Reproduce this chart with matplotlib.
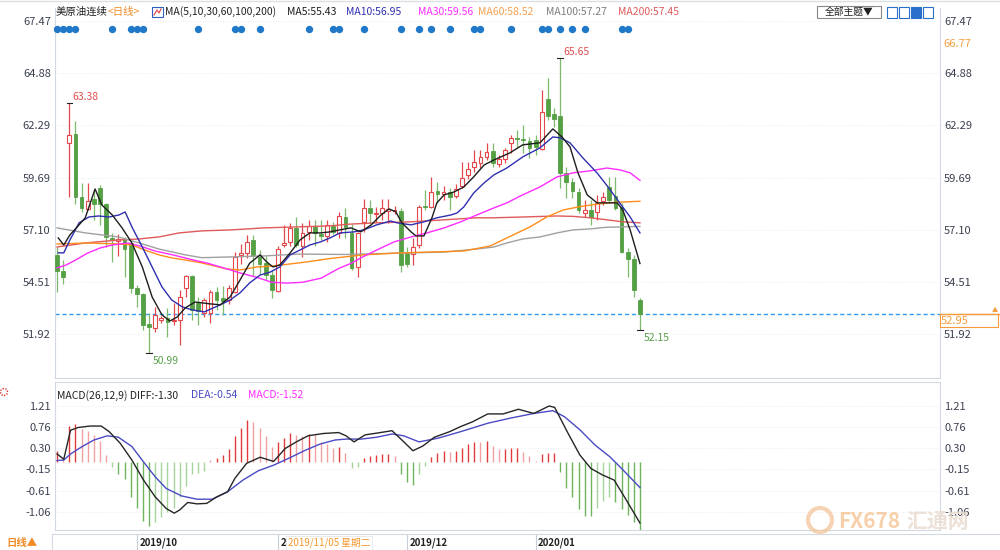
import numpy as np
import matplotlib.pyplot as plt
import matplotlib.transforms as mtransforms
from matplotlib.patches import Rectangle, Ellipse

plt.rcParams['font.family'] = ['Noto Sans CJK SC', 'DejaVu Sans']

# daily candles, 2019/09/12 .. 2020/01 (one per trading day)
opens = [55.86, 55.06, 61.42, 61.86, 58.74, 58.14, 58.64, 59.18, 58.39, 56.70,
         56.55, 56.65, 56.45, 54.22, 53.92, 52.43, 52.23, 52.63, 52.73, 52.60,
         52.63, 54.22, 54.81, 53.48, 52.98, 52.98, 54.02, 53.72, 53.62, 54.00,
         55.86, 55.96, 56.60, 55.76, 55.46, 54.86, 54.07, 56.35, 56.50, 57.20,
         56.30, 57.00, 57.25, 56.90, 56.80, 57.30, 56.95, 57.75, 56.95, 55.26,
         57.49, 58.19, 57.90, 57.94, 58.05, 58.05, 58.04, 56.01, 55.91, 56.35,
         58.30, 58.24, 59.03, 58.88, 58.98, 58.78, 59.28, 59.83, 60.22, 60.42,
         60.72, 61.02, 60.37, 60.62, 61.42, 61.67, 61.62, 61.52, 61.55, 61.12,
         63.60, 62.86, 62.76, 59.93, 59.48, 58.98, 57.94, 58.09, 57.99, 58.54,
         59.23, 58.78, 58.24, 56.01, 55.66, 53.62]
highs = [56.25, 55.61, 63.38, 62.51, 59.43, 59.43, 59.08, 59.33, 58.44, 56.95,
         56.90, 56.75, 56.60, 54.37, 53.97, 52.98, 53.28, 52.85, 53.23, 53.48,
         54.12, 54.86, 54.86, 53.77, 53.72, 54.12, 54.27, 54.30, 54.37, 56.01,
         56.40, 56.85, 56.85, 56.10, 55.80, 55.11, 56.30, 57.35, 57.45, 57.75,
         57.45, 57.60, 57.60, 57.60, 57.60, 57.50, 58.00, 58.20, 57.40, 57.00,
         58.64, 58.59, 58.24, 58.64, 58.64, 58.30, 58.19, 56.25, 56.70, 58.34,
         59.10, 59.73, 59.48, 59.30, 59.18, 59.40, 60.47, 60.47, 61.07, 61.07,
         61.42, 61.42, 60.80, 61.17, 61.81, 62.06, 62.31, 61.71, 61.80, 64.05,
         64.64, 63.15, 65.65, 60.22, 59.68, 59.18, 58.59, 58.59, 58.84, 58.98,
         59.73, 59.73, 58.44, 56.20, 55.86, 53.72]
lows = [54.02, 54.42, 58.74, 58.39, 57.99, 58.09, 57.59, 57.35, 56.25, 55.50,
        55.80, 54.76, 53.97, 53.28, 52.14, 50.99, 52.04, 52.50, 51.79, 52.38,
        51.39, 53.77, 52.63, 52.38, 52.78, 52.50, 53.13, 52.90, 53.40, 53.97,
        55.40, 55.70, 54.80, 54.90, 54.60, 53.72, 54.00, 56.25, 56.30, 56.25,
        55.76, 56.60, 56.30, 56.60, 56.50, 56.90, 56.70, 56.70, 55.10, 54.76,
        56.99, 57.45, 57.49, 57.59, 57.45, 57.90, 55.01, 55.26, 55.36, 56.20,
        58.10, 58.19, 58.44, 58.60, 58.09, 58.70, 59.18, 59.63, 59.98, 60.17,
        60.57, 60.22, 60.20, 60.42, 60.92, 61.22, 60.92, 60.67, 60.80, 61.07,
        62.56, 62.21, 59.18, 58.69, 58.69, 57.94, 57.74, 57.35, 57.59, 58.34,
        58.49, 58.09, 55.96, 54.76, 53.77, 52.15]
closes = [55.06, 54.76, 61.81, 58.74, 58.19, 58.54, 58.39, 58.39, 56.75, 56.60,
          56.65, 56.15, 54.22, 53.92, 52.38, 52.28, 52.88, 52.73, 52.53, 52.65,
          53.77, 54.81, 53.10, 53.08, 53.62, 54.02, 53.62, 53.57, 54.22, 55.76,
          55.96, 56.50, 55.86, 55.41, 54.86, 54.12, 56.15, 56.45, 57.20, 56.35,
          56.95, 57.30, 56.95, 56.80, 57.35, 57.00, 57.79, 57.25, 55.21, 56.95,
          58.19, 57.94, 57.95, 58.19, 58.15, 58.10, 55.36, 55.41, 56.25, 58.24,
          58.25, 58.98, 58.88, 58.98, 58.74, 59.13, 59.68, 60.13, 60.47, 60.72,
          60.97, 60.42, 60.62, 61.07, 61.67, 61.62, 61.57, 61.17, 61.20, 62.96,
          62.76, 62.61, 59.93, 59.48, 59.03, 58.09, 58.09, 57.74, 58.44, 58.74,
          58.58, 58.19, 56.01, 55.66, 54.12, 52.95]

# moving averages: (candle index, value)
ma5_idx = [0.2, 1.1, 2.1, 3.3, 4.6, 6.2, 7.3, 9.0, 10.6, 12.2, 13.9, 15.5, 17.1, 18.4,
           19.6, 20.9, 22.5, 24.9, 26.6, 28.2, 29.8, 31.4, 33.1, 34.2, 35.2, 36.3, 38.0,
           39.6, 41.2, 42.9, 44.5, 46.1, 47.9, 49.5, 51.2, 52.8, 54.1, 55.2, 56.2, 57.7,
           58.5, 59.8, 61.1, 61.9, 63.1, 64.7, 66.3, 67.9, 69.6, 71.2, 73.8, 75.9, 78.7,
           80.8, 82.3, 83.6, 84.9, 86.4, 88.0, 89.3, 91.3, 92.2, 93.4, 95.0]
ma5_val = [56.70, 56.35, 56.85, 57.25, 57.70, 59.13, 58.34, 57.84, 57.20, 56.45, 55.26,
           53.77, 52.88, 52.58, 52.78, 53.23, 53.52, 53.43, 53.38, 53.77, 54.60, 55.45,
           55.86, 55.50, 55.26, 55.36, 55.96, 56.60, 56.95, 56.95, 57.00, 57.10, 57.20,
           57.00, 57.35, 57.84, 58.14, 58.00, 57.45, 57.00, 56.80, 56.80, 57.70, 58.44,
           58.84, 58.98, 59.23, 59.73, 60.32, 60.57, 60.92, 61.32, 61.42, 62.11, 61.71,
           61.22, 59.93, 58.84, 58.44, 58.44, 58.44, 58.09, 57.10, 55.43]
ma10_idx = [0.2, 1.1, 2.1, 3.6, 5.2, 6.8, 8.5, 10.1, 11.1, 12.2, 13.9, 15.5, 17.1, 18.7,
            20.4, 22.0, 24.0, 26.6, 28.2, 29.8, 31.4, 33.1, 34.7, 36.3, 38.0, 39.6, 41.2,
            42.9, 44.5, 46.1, 48.4, 50.0, 52.1, 54.4, 55.4, 57.7, 59.8, 61.9, 64.2, 65.2,
            66.3, 67.9, 69.6, 71.2, 73.3, 75.9, 78.7, 80.8, 82.0, 83.6, 85.7, 88.0, 89.8,
            91.7, 93.4, 95.0]
ma10_val = [55.96, 55.96, 56.60, 57.45, 57.74, 57.79, 57.74, 57.84, 57.99, 57.25, 56.25,
            55.26, 54.27, 53.62, 53.28, 53.13, 53.03, 53.38, 53.62, 53.97, 54.47, 54.86,
            55.00, 55.26, 55.86, 56.10, 56.35, 56.50, 56.70, 56.95, 57.00, 57.10, 57.35,
            57.54, 57.45, 57.35, 57.50, 57.70, 57.84, 57.94, 58.24, 58.93, 59.43, 59.83,
            60.17, 60.72, 61.17, 61.71, 61.67, 61.42, 60.67, 59.93, 59.23, 58.44, 57.74,
            56.95]
ma30_idx = [0, 1.5, 3, 5, 7, 9, 11.5, 13.5, 16, 19, 22, 24.5, 27.5, 30, 32.5, 35, 37.5,
            40, 43, 46, 48, 49.5, 52.1, 54.9, 57.7, 60.3, 63.1, 65.8, 68.4, 71.2, 73.3,
            75.9, 78.7, 81.5, 84.1, 86.9, 89.6, 91.7, 93.4, 95]
ma30_val = [55.21, 55.36, 55.60, 55.95, 56.20, 56.35, 56.45, 56.30, 56.05, 55.85, 55.62,
            55.45, 55.18, 54.95, 54.75, 54.50, 54.46, 54.50, 54.70, 55.20, 55.45, 55.71,
            56.10, 56.50, 56.75, 56.95, 57.20, 57.50, 57.84, 58.19, 58.44, 58.84, 59.23,
            59.73, 59.93, 60.03, 60.17, 60.08, 59.93, 59.56]
ma60_idx = [0, 5, 10, 12.2, 14.3, 16.6, 18.7, 21, 23.6, 27.7, 29.8, 32.6, 35.2, 38, 40.7,
            44.5, 49.9, 55.4, 60.8, 66.2, 70.6, 73.3, 77.1, 79.8, 82.5, 85, 88, 90.6, 95]
ma60_val = [56.40, 56.45, 56.40, 56.35, 56.10, 55.86, 55.71, 55.60, 55.46, 55.16, 55.11,
            55.26, 55.31, 55.41, 55.51, 55.68, 55.86, 55.95, 56.00, 56.05, 56.30, 56.70,
            57.25, 57.74, 58.09, 58.24, 58.38, 58.46, 58.52]
ma100_idx = [0, 4.6, 10, 13.4, 16.6, 20.9, 23.6, 28.5, 34, 39.3, 47, 57.7, 63.1, 68.4,
             71.2, 73.3, 75.9, 78.7, 81.5, 84.1, 86.9, 89.6, 95]
ma100_val = [57.20, 56.95, 56.75, 56.45, 56.15, 55.86, 55.72, 55.76, 55.81, 55.90, 55.88,
             55.96, 56.00, 56.15, 56.25, 56.45, 56.65, 56.75, 56.95, 57.10, 57.15, 57.23,
             57.27]
ma200_idx = [0, 4.6, 10.1, 13.4, 16.6, 19.9, 23.6, 28.4, 33.9, 39.3, 44.6, 47.4, 52.1,
             57.7, 63.1, 68.4, 71.2, 75.9, 81.5, 84.1, 86.9, 89.6, 92.2, 95]
ma200_val = [56.25, 56.45, 56.60, 56.65, 56.75, 56.95, 57.05, 57.10, 57.20, 57.25, 57.30,
             57.38, 57.45, 57.50, 57.60, 57.70, 57.70, 57.74, 57.79, 57.77, 57.70, 57.60,
             57.50, 57.45]

# MACD histogram, one bar per candle
macd_hist = [0.25, 0.09, 0.79, 0.82, 0.72, 0.68, 0.59, 0.46, 0.16, -0.09,
             -0.25, -0.36, -0.75, -0.97, -1.25, -1.36, -1.29, -1.18, -1.07, -0.97,
             -0.75, -0.50, -0.25, -0.23, -0.18, 0.05, 0.09, 0.16, 0.29, 0.56,
             0.73, 0.91, 0.86, 0.73, 0.56, 0.34, 0.43, 0.52, 0.64, 0.59,
             0.57, 0.61, 0.59, 0.43, 0.39, 0.30, 0.34, 0.20, -0.13, -0.09,
             0.10, 0.14, 0.16, 0.18, 0.18, 0.14, -0.25, -0.43, -0.49, -0.25,
             -0.07, 0.11, 0.21, 0.25, 0.23, 0.25, 0.30, 0.39, 0.44, 0.43,
             0.46, 0.36, 0.29, 0.29, 0.30, 0.30, 0.23, 0.13, 0.04, 0.18,
             0.20, 0.20, -0.21, -0.54, -0.75, -1.00, -1.16, -1.16, -0.97, -0.82,
             -0.75, -0.86, -1.00, -1.13, -1.29, -1.52]
diff_idx = [0, 1.1, 2.2, 3.5, 5.4, 7.2, 8.5, 10.3, 12.2, 14.1, 16, 17.8, 19.1, 20, 21.3,
            22.8, 24.4, 25.9, 27.8, 29, 30.9, 33.1, 35.3, 37.2, 39, 40.9, 43.4, 45.9, 47.1,
            48.4, 50.2, 52.7, 54.6, 56.2, 58, 59.6, 61.5, 64, 65.8, 67.7, 70.2, 72.7, 75.2,
            77.7, 80.2, 81.1, 83.3, 85.2, 87, 88.9, 90.8, 92.6, 95]
diff_val = [0.18, 0.07, 0.69, 0.75, 0.78, 0.78, 0.66, 0.41, 0.05, -0.38, -0.74, -0.99,
            -1.09, -1.02, -0.86, -0.89, -0.88, -0.75, -0.63, -0.34, -0.02, 0.11, 0.02,
            0.30, 0.44, 0.57, 0.62, 0.64, 0.57, 0.44, 0.59, 0.64, 0.68, 0.48, 0.25, 0.35,
            0.54, 0.66, 0.77, 0.87, 1.04, 1.04, 1.14, 1.05, 1.21, 1.18, 0.62, 0.16, -0.13,
            -0.27, -0.38, -0.77, -1.30]
dea_idx = [0, 1.1, 2.2, 4.1, 6, 8.2, 10, 12.2, 14.1, 16, 17.8, 20.3, 22.8, 25.3, 27.8,
           30.3, 32.8, 35.3, 37.8, 40.3, 42.8, 45.3, 47.1, 49.6, 52.1, 54.6, 56.5, 59,
           62.1, 65.8, 70.2, 73.9, 77.7, 80.8, 82.7, 85.2, 87.7, 90.1, 92, 95]
dea_val = [0.04, 0.05, 0.18, 0.34, 0.48, 0.57, 0.54, 0.34, 0.01, -0.31, -0.56, -0.72,
           -0.79, -0.79, -0.63, -0.38, -0.18, -0.06, 0.09, 0.25, 0.39, 0.48, 0.50, 0.50,
           0.54, 0.61, 0.57, 0.44, 0.52, 0.66, 0.84, 0.95, 1.05, 1.11, 0.98, 0.70, 0.37,
           0.12, -0.13, -0.54]

price_ticks = [67.47, 64.88, 62.29, 59.69, 57.10, 54.51, 51.92]
macd_ticks = [1.21, 0.76, 0.30, -0.15, -0.61, -1.06]
month_idx = [13, 36, 57, 78]
month_labels = ['2019/10', '2019/11', '2019/12', '2020/01']
event_idx = [0, 1, 2, 3, 9, 12, 13, 14, 23, 29, 30, 33, 41, 45, 46, 50, 56, 59, 61,
             64, 68, 69, 74, 79, 80, 82, 84, 86, 92, 93]
mark_high_idx = [2, 82]
mark_low_idx = [15, 95]
last_price = 52.95
ma_names = ['MA5', 'MA10', 'MA30', 'MA60', 'MA100', 'MA200']
ma_last = [55.43, 56.95, 59.56, 58.52, 57.27, 57.45]
macd_last = [-1.30, -0.54, -1.52]

RED = '#e4484a'
GREEN = '#55a044'
ORANGE = '#f08c28'
ma_colors = ['#1e1e1e', '#2f2fb0', '#ff2cff', '#ff8c1a', '#a0a0a0', '#e05a5a']

W, H = 1000, 550
fig = plt.figure(figsize=(10, 5.5), dpi=100)


def box(x0, y0, x1, y1):
    return [x0 / W, 1 - y1 / H, (x1 - x0) / W, (y1 - y0) / H]


def fy(y):
    return 1 - y / H


ax = fig.add_axes(box(55, 8, 940, 378))
ax2 = fig.add_axes(box(55, 382, 940, 530))
xlim = (-0.33, 143.9)

o = np.array(opens)
h = np.array(highs)
l = np.array(lows)
c = np.array(closes)
idx = np.arange(len(c))
up = c >= o

# candles
ax.vlines(idx[up], l[up], h[up], color=RED, lw=0.9, zorder=2)
ax.vlines(idx[~up], l[~up], h[~up], color='#7cbb6c', lw=0.9, zorder=2)
body_lo = np.minimum(o, c)
body_h = np.maximum(np.abs(c - o), 0.03)
ax.bar(idx[up], body_h[up], bottom=body_lo[up], width=0.62, facecolor='white',
       edgecolor=RED, lw=0.8, zorder=3)
ax.bar(idx[~up], body_h[~up], bottom=body_lo[~up], width=0.62, facecolor=GREEN,
       edgecolor=GREEN, lw=0.6, zorder=3)

# moving averages
ma_series = [(ma5_idx, ma5_val), (ma10_idx, ma10_val), (ma30_idx, ma30_val),
             (ma60_idx, ma60_val), (ma100_idx, ma100_val), (ma200_idx, ma200_val)]
for (xi, yv), col in zip(ma_series[::-1], ma_colors[::-1]):
    ax.plot(xi, yv, color=col, lw=1.0, zorder=4)

# last price line
ax.axhline(last_price, color='#3399ee', lw=1.0, ls=(0, (3, 2)), zorder=1)

# extreme marks
for i in mark_high_idx:
    ax.plot([i - 0.45, i + 0.45], [h[i], h[i]], color='#222222', lw=0.8, zorder=5)
    ax.annotate(f'{h[i]:.2f}', (i, h[i]), xytext=(3, 1), textcoords='offset pixels',
                ha='left', va='bottom', fontsize=7.5, color='#e05050')
for i in mark_low_idx:
    ax.plot([i - 0.45, i + 0.45], [l[i], l[i]], color='#222222', lw=0.8, zorder=5)
    ax.annotate(f'{l[i]:.2f}', (i, l[i]), xytext=(4, -3), textcoords='offset pixels',
                ha='left', va='top', fontsize=7.5, color='#5aa04a')

# event dots
trans = mtransforms.blended_transform_factory(ax.transData, ax.transAxes)
ax.scatter(event_idx, [0.943] * len(event_idx), transform=trans, s=28,
           color='#1f78c8', zorder=6, clip_on=False, linewidths=0)

ax.set_xlim(*xlim)
ax.set_ylim(49.75, 68.11)
ax.set_yticks(price_ticks, [f'{t:.2f}' for t in price_ticks])
ax.set_xticks([])

# MACD panel
hist = np.array(macd_hist)
prev = np.concatenate([[0], np.abs(hist[:-1])])
cols = []
for v, p in zip(hist, prev):
    if v >= 0:
        cols.append('#e23a3a' if abs(v) >= p else '#f0a0a0')
    else:
        cols.append('#6fb35f' if abs(v) >= p else '#a6d49a')
ax2.vlines(idx, 0, hist, colors=cols, lw=1.0, zorder=2)
ax2.plot(dea_idx, dea_val, color='#4a4ac4', lw=1.0, zorder=3)
ax2.plot(diff_idx, diff_val, color='#262626', lw=1.0, zorder=4)
ax2.set_xlim(*xlim)
ax2.set_ylim(-1.451, 1.725)
ax2.set_yticks(macd_ticks, [f'{t:.2f}' for t in macd_ticks])
ax2.set_xticks([])

for a in (ax, ax2):
    a.tick_params(axis='y', left=False, right=False, length=0, labelleft=True,
                  labelright=True, labelsize=8, labelcolor='#3c4150', pad=3)
    a.grid(axis='y', color='#e2e6ec', ls=(0, (1, 2)), lw=0.6)
    for s in a.spines.values():
        s.set_color('#d3d9e2')
        s.set_linewidth(0.8)
ax.spines['top'].set_visible(False)

# month labels along the bottom strip
t2 = mtransforms.blended_transform_factory(ax2.transData, ax2.transAxes)
for mi, lab in zip(month_idx, month_labels):
    ax2.plot([mi, mi], [-0.03, -0.13], transform=t2, color='#c8ced8', lw=0.8, clip_on=False)
    ax2.text(mi + 0.4, -0.088, lab, transform=t2, fontsize=7, color='#222222',
             ha='left', va='center', fontweight='bold')
fig.add_artist(plt.Line2D([52 / W, 1], [fy(534), fy(534)], color='#d3d9e2', lw=0.8))
fig.add_artist(plt.Line2D([52 / W, 52 / W], [fy(534), 0], color='#d3d9e2', lw=0.8))
fig.text(6 / W, fy(543), '日线▲', fontsize=7.5, color=ORANGE, va='center', fontweight='bold')
fig.text(288 / W, fy(543), '2019/11/05 星期二', fontsize=7, color='#f5962a', va='center',
         bbox=dict(facecolor='white', edgecolor='#e6e6e6', pad=1.2, lw=0.6))

# header row
hy = fy(12)
fig.text(56 / W, hy, '美原油连续', fontsize=7.5, color='#222222', va='center')
fig.text(108 / W, hy, '<日线>', fontsize=7.5, color=ORANGE, va='center')
fig.add_artist(Rectangle((152 / W, fy(17)), 11 / W, 10 / H, transform=fig.transFigure,
                         facecolor='white', edgecolor='#3060c0', lw=0.8))
fig.add_artist(plt.Line2D([154 / W, 157 / W, 159 / W, 161 / W],
                          [fy(15), fy(10), fy(13), fy(9)], color='#e04040', lw=0.8))
fig.text(165 / W, hy, 'MA(5,10,30,60,100,200)', fontsize=7.5, color='#222222', va='center')
ma_x = [287, 346, 418, 478, 546, 618]
for x0, name, val, col in zip(ma_x, ma_names, ma_last, ma_colors):
    if name == 'MA60':
        col = '#f5a050'
    if name == 'MA100':
        col = '#7d7d7d'
    fig.text(x0 / W, hy, f'{name}:{val:.2f}', fontsize=7.5, color=col, va='center')

# top-right controls
fig.add_artist(Rectangle((817 / W, fy(18)), 64 / W, 12 / H, transform=fig.transFigure,
                         facecolor='white', edgecolor='#888888', lw=0.8))
fig.text(849 / W, hy, '全部主题▼', fontsize=7, color='#222222', va='center', ha='center')
for k, x0 in enumerate([887, 899, 911, 923]):
    filled = k == 2
    fig.add_artist(Rectangle((x0 / W, fy(18)), 10 / W, 11 / H, transform=fig.transFigure,
                             facecolor='#2a6fc9' if filled else 'white',
                             edgecolor='#2a6fc9', lw=0.8))
fig.add_artist(plt.Line2D([0, 1], [fy(1), fy(1)], color='#dcdfe4', lw=1.0))

# right strip markers
fig.text(943 / W, fy(44), '66.77', fontsize=8, color='#f0a040', va='center')
fig.add_artist(plt.Line2D([940 / W, 1], [fy(314), fy(314)], color='#f59a3a', lw=1.0))
fig.add_artist(Rectangle((940 / W, fy(327)), 58 / W, 13 / H, transform=fig.transFigure,
                         facecolor='white', edgecolor='#f59a3a', lw=0.8))
fig.text(941 / W, fy(320.5), f'{last_price:.2f}', fontsize=8, color='#f59a3a', va='center')
fig.text(995 / W, fy(310), '▲', fontsize=4.5, color='#f59a3a', va='center', ha='center')

# MACD header
my = fy(395.5)
fig.text(57 / W, my, f'MACD(26,12,9) DIFF:{macd_last[0]:.2f}', fontsize=7.5,
         color='#222222', va='center')
fig.text(191 / W, my, f'DEA:{macd_last[1]:.2f}', fontsize=7.5, color='#4a4ac4', va='center')
fig.text(248 / W, my, f'MACD:{macd_last[2]:.2f}', fontsize=7.5, color='#ff2cff', va='center')
fig.add_artist(Ellipse((4 / W, fy(392)), 7 / W, 7 / H, transform=fig.transFigure,
                       facecolor='none', edgecolor='#e03030', lw=1.0, ls=(0, (1, 1))))

# watermark
fig.add_artist(Ellipse((820 / W, fy(520)), 24 / W, 24 / H, transform=fig.transFigure,
                       facecolor='none', edgecolor='#f3c9a0', lw=3, alpha=0.8))
fig.text(838 / W, fy(521), 'FX678', fontsize=15, color='#f6c79a', va='center',
         fontweight='bold', alpha=0.85)
fig.text(906 / W, fy(521), '汇通网', fontsize=15, color='#eadcd0', va='center',
         fontweight='bold', alpha=0.85)

fig.savefig('out.png', dpi=100, facecolor='white')
